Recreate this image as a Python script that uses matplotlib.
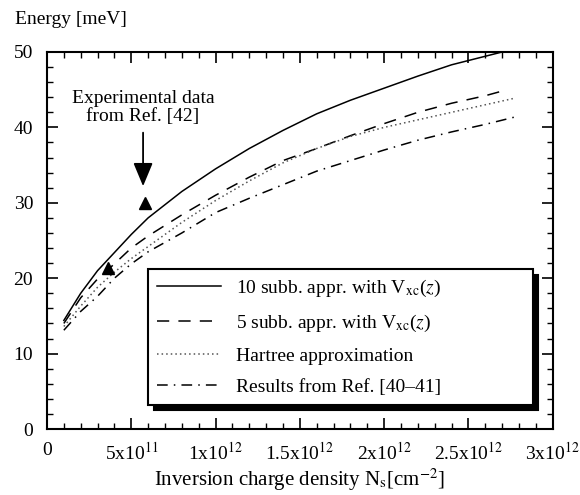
"""
Subband energy vs. inversion charge density, comparison of approximations.
"""

import matplotlib
matplotlib.use("Agg")
import matplotlib.pyplot as plt
from matplotlib.ticker import MultipleLocator, FixedLocator

plt.rcParams["font.family"] = ["Liberation Serif", "DejaVu Serif"]
plt.rcParams["mathtext.fontset"] = "stix"

# ---------- data (N in units of 1e12 cm^-2, E in meV) ----------
n_solid = [0.1, 0.2, 0.3, 0.4, 0.5, 0.6, 0.8, 1.0, 1.2, 1.4, 1.6, 1.8, 2.0, 2.2, 2.4, 2.7]
e_solid = [14.4, 18.0, 21.0, 23.4, 25.8, 28.0, 31.5, 34.5, 37.2, 39.6, 41.8, 43.6, 45.2, 46.8, 48.3, 50.0]

n_dash = [0.1, 0.2, 0.3, 0.4, 0.5, 0.6, 0.8, 1.0, 1.2, 1.4, 1.6, 1.8, 2.0, 2.2, 2.4, 2.6, 2.73]
e_dash = [14.0, 17.4, 19.9, 21.9, 24.0, 25.6, 28.4, 31.0, 33.4, 35.6, 37.2, 38.9, 40.5, 42.0, 43.2, 44.2, 45.0]

n_hartree = [0.1, 0.2, 0.3, 0.4, 0.5, 0.6, 0.8, 1.0, 1.2, 1.4, 1.6, 1.8, 2.0, 2.2, 2.4, 2.6, 2.78]
e_hartree = [13.6, 16.3, 18.8, 20.8, 22.6, 24.2, 27.4, 30.3, 32.9, 35.3, 37.2, 38.8, 40.0, 41.0, 42.0, 43.0, 43.9]

n_ref = [0.1, 0.2, 0.3, 0.4, 0.5, 0.6, 0.8, 1.0, 1.2, 1.4, 1.6, 1.8, 2.0, 2.2, 2.4, 2.6, 2.78]
e_ref = [13.1, 15.6, 17.6, 20.0, 21.9, 23.5, 26.0, 28.7, 30.6, 32.4, 34.2, 35.6, 37.0, 38.3, 39.4, 40.4, 41.4]

n_exp = [0.36, 0.58]
e_exp = [21.3, 30.0]

x_ticks = [0, 0.5, 1.0, 1.5, 2.0, 2.5, 3.0]
x_ticklabels = ["0", r"5x10$^{11}$", r"1x10$^{12}$", r"1.5x10$^{12}$",
                r"2x10$^{12}$", r"2.5x10$^{12}$", r"3x10$^{12}$"]

labels = [r"10 subb. appr. with V$_{\rm xc}$($z$)",
          r"5 subb. appr. with V$_{\rm xc}$($z$)",
          "Hartree approximation",
          "Results from Ref. [40\u201341]"]

# ---------- plot ----------
fig = plt.figure(figsize=(5.8, 4.95), dpi=100)
ax = fig.add_axes([0.081, 0.1333, 0.872, 0.7617])

lw = 1.1
ax.plot(n_solid, e_solid, color="black", lw=lw, label=labels[0])
ax.plot(n_dash, e_dash, color="black", lw=lw, linestyle=(0, (8, 6)), label=labels[1])
ax.plot(n_hartree, e_hartree, color="#555555", lw=lw, linestyle=(0, (1, 2)), label=labels[2])
ax.plot(n_ref, e_ref, color="black", lw=lw, linestyle=(0, (7, 4, 1, 4)), label=labels[3])

ax.plot(n_exp, e_exp, "^", color="black", markersize=8, zorder=5)

# label and arrow pointing at the experimental point
ax.text(0.57, 42.6, "Experimental data\nfrom Ref. [42]", ha="center", va="center",
        fontsize=14, linespacing=1.1)
ax.annotate("", xy=(0.57, 32.2), xytext=(0.57, 39.3),
            arrowprops=dict(arrowstyle="-|>,head_length=1.2,head_width=0.5",
                            color="black", lw=1.3, mutation_scale=12,
                            shrinkA=0, shrinkB=0))

ax.set_xlim(0, 3.0)
ax.set_ylim(0, 50)
ax.xaxis.set_major_locator(FixedLocator(x_ticks))
ax.set_xticklabels(x_ticklabels)
ax.xaxis.set_minor_locator(MultipleLocator(0.1))
ax.yaxis.set_major_locator(MultipleLocator(10))
ax.yaxis.set_minor_locator(MultipleLocator(2))
ax.tick_params(which="both", direction="in", top=True, right=True, labelsize=14)
ax.tick_params(axis="x", pad=9)
ax.tick_params(axis="y", pad=10)
ax.tick_params(which="major", length=8, width=1.2)
ax.tick_params(which="minor", length=4, width=1.0)
for sp in ax.spines.values():
    sp.set_linewidth(1.5)

ax.set_xlabel(r"Inversion charge density N$_{\rm s}$[cm$^{-2}$]", fontsize=15, labelpad=2)
fig.text(0.026, 0.96, "Energy [meV]", fontsize=14, ha="left", va="center")

leg = ax.legend(loc="lower left", bbox_to_anchor=(0.2, 0.064, 0.76, 0.368), mode="expand",
                borderaxespad=0, fontsize=14, frameon=True, fancybox=False,
                edgecolor="black", handlelength=3.3, handletextpad=0.75,
                labelspacing=0.7, borderpad=0.45,
                shadow={"ox": 4, "oy": -4, "color": "black", "alpha": 1})
leg.get_frame().set_linewidth(1.5)

fig.savefig("out.png", dpi=100)
